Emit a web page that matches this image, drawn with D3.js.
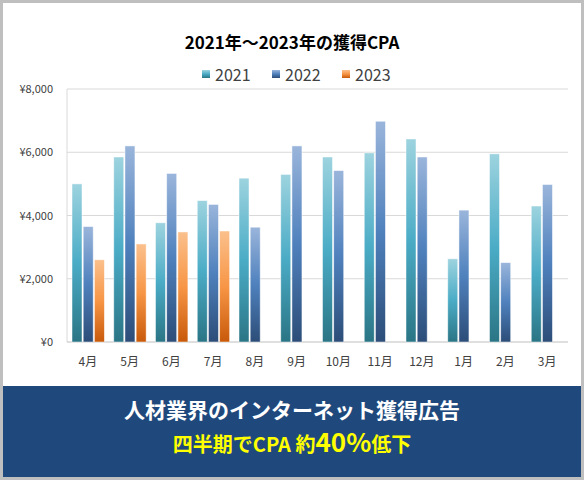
<!DOCTYPE html>
<html><head><meta charset="utf-8">
<script src="https://cdn.jsdelivr.net/npm/d3@7"></script>
<style>body{margin:0;background:#fff}svg{display:block;font-family:"Noto Sans CJK JP","Noto Sans",sans-serif}</style>
</head><body><svg id="c" width="584" height="480"></svg>
<script>
const months=["4月","5月","6月","7月","8月","9月","10月","11月","12月","1月","2月","3月"];
const series=["2021","2022","2023"];
const v2021=[5000,5850,3770,4470,5180,5300,5850,5980,6420,2630,5950,4300];
const v2022=[3650,6200,5330,4350,3630,6200,5420,6980,5850,4170,2510,4980];
const v2023=[2600,3100,3480,3510,null,null,null,null,null,null,null,null];
const yTicks=[0,2000,4000,6000,8000];
const vals=[v2021,v2022,v2023];
const grads=[["#9dd3df","#4bacc6","#2a7585"],["#9ab5db","#4f81bd","#2c4d78"],["#fbc08c","#f79646","#c85a0a"]];
const svg=d3.select("#c");
const defs=svg.append("defs");
grads.forEach((g,i)=>{const lg=defs.append("linearGradient").attr("id","g"+i).attr("x1",0).attr("y1",0).attr("x2",0).attr("y2",1);
lg.append("stop").attr("offset","0%").attr("stop-color",g[0]);lg.append("stop").attr("offset","50%").attr("stop-color",g[1]);lg.append("stop").attr("offset","100%").attr("stop-color",g[2]);});
svg.append("rect").attr("x",1.5).attr("y",1.5).attr("width",581).attr("height",477).attr("fill","#fff").attr("stroke","#bfbfbf").attr("stroke-width",3);
const L=67,R=568,T=89,B=342;
const x=d3.scaleBand().domain(months).range([L,R]);
const y=d3.scaleLinear().domain([0,8000]).range([B,T]);
svg.append("g").selectAll("line").data(yTicks.slice(1)).join("line").attr("x1",L).attr("x2",R).attr("y1",d=>y(d)).attr("y2",d=>y(d)).attr("stroke","#d9d9d9");
svg.append("line").attr("x1",L).attr("x2",L).attr("y1",T).attr("y2",B).attr("stroke","#d9d9d9");
svg.append("line").attr("x1",L).attr("x2",R).attr("y1",B).attr("y2",B).attr("stroke","#bfbfbf");
svg.append("g").selectAll("text").data(yTicks).join("text").attr("x",L-14).attr("y",d=>y(d)+4).attr("text-anchor","end").attr("font-size",11).attr("fill","#404040").text(d=>"¥"+d3.format(",")(d));
svg.append("g").selectAll("text").data(months).join("text").attr("x",d=>x(d)+x.bandwidth()/2).attr("y",B+24).attr("text-anchor","middle").attr("font-size",12).attr("fill","#404040").text(d=>d);
const bw=10,step=11.2,off=5;
vals.forEach((arr,si)=>{
 svg.append("g").selectAll("rect").data(arr.map((v,i)=>({m:months[i],v})).filter(d=>d.v!=null)).join("rect")
 .attr("x",d=>x(d.m)+off+si*step).attr("width",bw).attr("y",d=>y(d.v)).attr("height",d=>B-y(d.v))
 .attr("fill","url(#g"+si+")").attr("stroke","#fff").attr("stroke-opacity",0.6).attr("stroke-width",0.8);
});
svg.append("text").attr("x",292).attr("y",49).attr("text-anchor","middle").attr("font-size",17).attr("font-weight","bold").attr("fill","#000").text("2021年～2023年の獲得CPA");
const lx=[202,272,342];
series.forEach((s,i)=>{svg.append("rect").attr("x",lx[i]).attr("y",70).attr("width",8).attr("height",8).attr("fill","url(#g"+i+")");
svg.append("text").attr("x",lx[i]+13).attr("y",81).attr("font-size",16).attr("fill","#404040").text(s);});
svg.append("rect").attr("x",3).attr("y",386).attr("width",578).attr("height",91).attr("fill","#1f497d");
svg.append("text").attr("x",292).attr("y",418).attr("text-anchor","middle").attr("font-size",21).attr("font-weight","bold").attr("fill","#fff").text("人材業界のインターネット獲得広告");
const t2=svg.append("text").attr("x",292).attr("y",452).attr("text-anchor","middle").attr("font-weight","bold").attr("fill","#ffff00").attr("font-size",20);
t2.append("tspan").text("四半期でCPA 約");t2.append("tspan").attr("font-size",26).text("40%");t2.append("tspan").text("低下");
</script></body></html>
